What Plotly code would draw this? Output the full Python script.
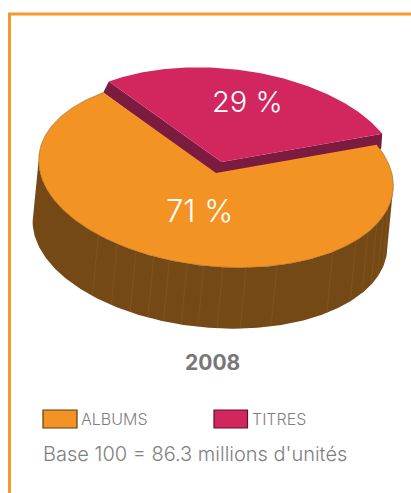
import numpy as np
import plotly.graph_objects as go

# data
categories = ["ALBUMS", "TITRES"]
shares = [71, 29]
year = "2008"
base_note = "Base 100 = 86.3 millions d'unités"

# style / projection
ORANGE, BROWN, RIB = "#F39323", "#754916", "#8A5A20"
CRIMSON, WINE = "#D2265F", "#7C1B40"
GREY = "#808080"
CX, CY, A, B, TILT = 216.0, 173.0, 178.0, 93.5, np.radians(5.6)
DEPTH = (-6.0, 61.0)
EXPLODE = (5.5, -11.0)
WINE_DEPTH = (-1.0, 12.0)
START = 28.0
RIB_ANGLES = [231.4, 239.1, 246.2, 252.4, 257.7, 263.6, 269, 275.2, 282.7, 293.1,
              314.2, 325.1, 331.9, 338, 343.7, 349.4]


def pt(t, dx=0.0, dy=0.0):
    t = np.radians(np.asarray(t, dtype=float))
    u, v = A * np.cos(t), -B * np.sin(t)
    return (CX + dx + u * np.cos(TILT) - v * np.sin(TILT),
            CY + dy + u * np.sin(TILT) + v * np.cos(TILT))


def add(fig, x, y, fill, line=None, w=0.0):
    fig.add_trace(go.Scatter(x=list(x), y=list(y), mode="lines", fill="toself", fillcolor=fill,
                             line=dict(color=line or fill, width=w), hoverinfo="skip", showlegend=False))


total = sum(shares)
span_t = shares[1] / total * 360.0
a_t = np.linspace(START, START + span_t, 120)
a_o = np.linspace(START + span_t, START + 360.0, 300)

fig = go.Figure()

# titres: side faces then top
ex, ey = EXPLODE
wx, wy = WINE_DEPTH
x0, y0 = pt(START, ex, ey)
x1, y1 = pt(START + span_t, ex, ey)
ax, ay = CX + ex, CY + ey
lx, ly = pt(START + span_t)
add(fig, [x0, ax, x1, lx, CX, x0 + wx, x0], [y0, ay, y1, ly, CY + 2, y0 + wy + 3, y0], WINE)
xt, yt = pt(a_t, ex, ey)
add(fig, [ax, *xt, ax], [ay, *yt, ay], CRIMSON)

# albums: outer wall, between the two horizontal extremes of the rim
low = np.linspace(183, 363, 240)
tx, ty = pt(low)
bx, by = pt(low[::-1], *DEPTH)
add(fig, [*tx, *bx, tx[0]], [*ty, *by, ty[0]], BROWN)
for r in RIB_ANGLES:
    p, q = pt(r), pt(r, *DEPTH)
    fig.add_trace(go.Scatter(x=[p[0], q[0]], y=[p[1], q[1]], mode="lines",
                             line=dict(color=RIB, width=0.6), hoverinfo="skip", showlegend=False))
# albums: top, with a hairline only along the rim
xo, yo = pt(a_o)
add(fig, [CX, *xo, CX], [CY, *yo, CY], ORANGE)
fig.add_trace(go.Scatter(x=xo, y=yo, mode="lines", line=dict(color="#6B4513", width=0.4),
                         hoverinfo="skip", showlegend=False))

shapes = [
    dict(type="line", x0=9.5, x1=9.5, y0=13, y1=493, line=dict(color="#F7982A", width=3)),
    dict(type="line", x0=8, x1=411, y0=14, y1=14, line=dict(color="#F7982A", width=3)),
    dict(type="rect", x0=43, x1=77, y0=410, y1=428, fillcolor=ORANGE, line=dict(color="#5E3B10", width=1.2)),
    dict(type="rect", x0=214, x1=247.5, y0=410, y1=428, fillcolor=CRIMSON, line=dict(color="#5A1230", width=1.2)),
]
FONT = "Inter"


def note(x, y, text, size, color, anchor="left", weight=300):
    return dict(x=x, y=y, text=text, showarrow=False, xanchor=anchor, yanchor="middle", borderpad=0,
                borderwidth=0, font=dict(family=FONT, size=size, color=color, weight=weight))


annotations = [
    note(247.5, 101, f"{shares[1]} %", 29, "white", "center"),
    note(199.5, 210, f"{shares[0]} %", 31, "white", "center"),
    note(212.5, 362, year, 21, "#777777", "center", 700),
    note(81, 419, categories[0], 16, GREY),
    note(252, 419, categories[1], 16, GREY),
    note(43, 454, base_note, 20, GREY),
]

fig.update_layout(
    width=411, height=493, margin=dict(l=0, r=0, t=0, b=0),
    paper_bgcolor="white", plot_bgcolor="white", showlegend=False,
    xaxis=dict(range=[0, 411], visible=False, fixedrange=True),
    yaxis=dict(range=[493, 0], visible=False, fixedrange=True),
    shapes=shapes, annotations=annotations,
)
fig.write_html("out.html", config={"displayModeBar": False},
               post_script="document.body.style.margin='0';document.documentElement.style.overflow='hidden';")
